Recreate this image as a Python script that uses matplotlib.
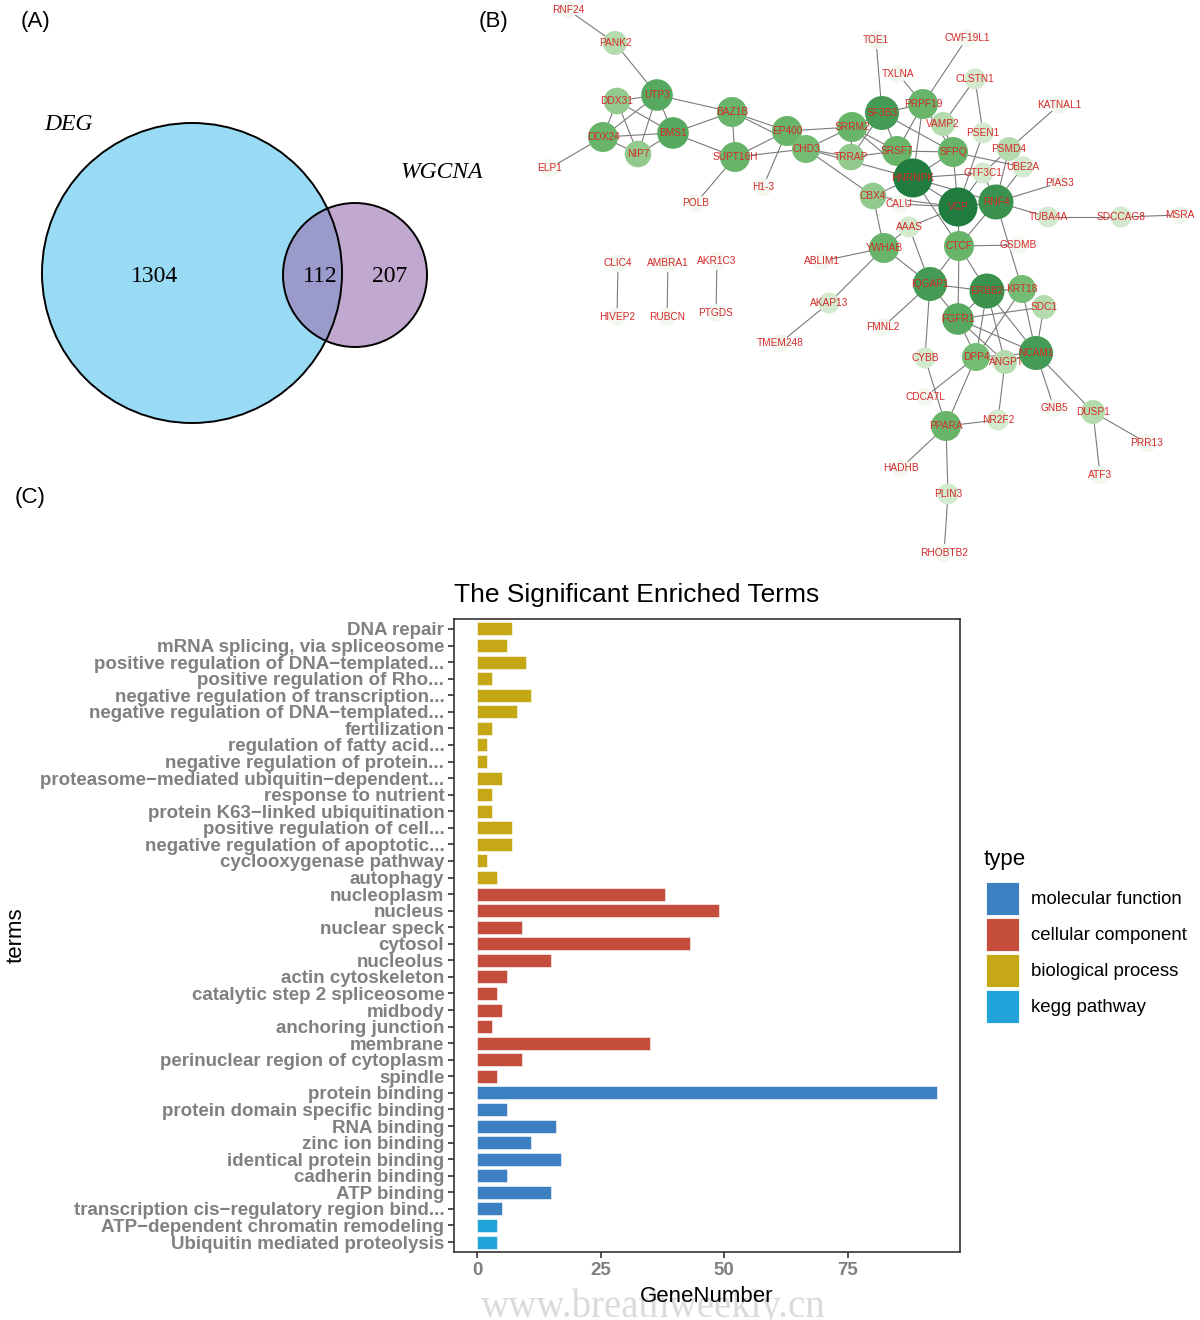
import matplotlib
matplotlib.use("Agg")
import matplotlib.pyplot as plt
from matplotlib.patches import Circle, Rectangle

plt.rcParams["font.family"] = ["Liberation Sans", "DejaVu Sans"]

W, H = 1200, 1320

# ── (A) Venn data ─────────────────────────────────────────────────────────────
VENN_SETS = ["DEG", "WGCNA"]
VENN_COUNTS = [1304, 112, 207]          # DEG only, both, WGCNA only

# ── (B) PPI network data (layout in picture pixels) ───────────────────────────
NODE_NAMES = [
    "RNF24", "PANK2", "UTP3", "DDX31", "DDX24", "BMS1", "NIP7", "ELP1",
    "BAZ1B", "SUPT16H", "EP400", "CHD3", "SRRM2", "TRRAP", "H1-3", "POLB",
    "TOE1", "CWF19L1", "TXLNA", "CLSTN1", "SF3B3", "PRPF19", "VAMP2", "KATNAL1",
    "PSEN1", "PSMD4", "SRSF7", "SFPQ", "GTF3C1", "UBE2A", "PIAS3", "HNRNPK",
    "CBX4", "CALU", "VCP", "RNF4", "TUBA4A", "SDCCAG8", "MSRA", "AAAS",
    "YWHAB", "ABLIM1", "CTCF", "GSDMB", "IQGAP1", "ERBB2", "KRT18", "SDC1",
    "AKAP13", "FGFR1", "FMNL2", "TMEM248", "CYBB", "DPP4", "ANGPTL4", "NCAM1",
    "CDCA7L", "GNB5", "DUSP1", "NR2F2", "PPARA", "PRR13", "HADHB", "ATF3",
    "PLIN3", "RHOBTB2", "CLIC4", "HIVEP2", "AMBRA1", "RUBCN", "AKR1C3", "PTGDS",
]
NODE_X = [
    568, 615, 657, 617, 603, 673, 638, 550,
    732, 735, 787, 806, 852, 851, 763, 696,
    876, 967, 898, 975, 882, 923, 943, 1059,
    983, 1009, 897, 953, 983, 1023, 1059, 913,
    873, 899, 958, 996, 1048, 1121, 1180, 909,
    884, 822, 959, 1018, 930, 987, 1022, 1044,
    829, 958, 883, 780, 925, 976, 1005, 1036,
    925, 1054, 1093, 998, 946, 1147, 901, 1100,
    948, 944, 618, 617, 668, 667, 717, 716,
]
NODE_Y = [
    10, 43, 95, 101, 137, 133, 154, 168,
    112, 157, 131, 149, 127, 157, 187, 203,
    40, 38, 74, 79, 113, 104, 124, 105,
    133, 149, 151, 152, 173, 167, 183, 178,
    196, 204, 207, 202, 217, 217, 215, 227,
    248, 261, 246, 245, 284, 291, 289, 307,
    303, 319, 327, 343, 358, 357, 362, 353,
    397, 408, 412, 420, 426, 443, 468, 475,
    494, 553, 263, 317, 263, 317, 261, 313,
]
# connectivity level (drives node shade and size)
NODE_LEVEL = [
    1, 3, 7, 4, 6, 7, 4, 1,
    6, 6, 6, 5, 6, 4, 1, 1,
    1, 1, 1, 2, 8, 6, 3, 1,
    2, 3, 6, 6, 2, 2, 1, 10,
    4, 1, 10, 9, 2, 2, 1, 2,
    6, 1, 6, 1, 8, 9, 5, 3,
    2, 7, 1, 1, 2, 5, 3, 8,
    1, 1, 3, 2, 6, 1, 1, 1,
    2, 1, 1, 1, 1, 1, 1, 1,
]
EDGES = [
    ("RNF24", "PANK2"), ("PANK2", "UTP3"), ("UTP3", "DDX31"), ("UTP3", "DDX24"),
    ("UTP3", "NIP7"), ("UTP3", "BMS1"), ("UTP3", "BAZ1B"), ("DDX31", "DDX24"),
    ("DDX31", "NIP7"), ("DDX31", "BMS1"), ("DDX24", "BMS1"), ("DDX24", "NIP7"),
    ("DDX24", "ELP1"), ("NIP7", "BMS1"), ("BMS1", "BAZ1B"), ("BMS1", "SUPT16H"),
    ("BAZ1B", "SUPT16H"), ("BAZ1B", "EP400"), ("BAZ1B", "CHD3"), ("SUPT16H", "EP400"),
    ("SUPT16H", "POLB"), ("SUPT16H", "CHD3"), ("EP400", "H1-3"), ("EP400", "SRRM2"),
    ("EP400", "CHD3"), ("CHD3", "SRRM2"), ("CHD3", "TRRAP"), ("CHD3", "CBX4"),
    ("CHD3", "HNRNPK"), ("SRRM2", "SF3B3"), ("SRRM2", "SRSF7"), ("SRRM2", "HNRNPK"),
    ("SRRM2", "TRRAP"), ("TRRAP", "SF3B3"), ("TRRAP", "SRSF7"), ("SF3B3", "PRPF19"),
    ("SF3B3", "SRSF7"), ("SF3B3", "SFPQ"), ("SF3B3", "TOE1"), ("PRPF19", "CWF19L1"),
    ("PRPF19", "TXLNA"), ("PRPF19", "SRSF7"), ("PRPF19", "HNRNPK"), ("PRPF19", "SFPQ"),
    ("VAMP2", "CLSTN1"), ("VAMP2", "SFPQ"), ("CLSTN1", "PSEN1"), ("PSEN1", "VCP"),
    ("SRSF7", "SFPQ"), ("SRSF7", "HNRNPK"), ("SFPQ", "HNRNPK"), ("SFPQ", "VCP"),
    ("SFPQ", "UBE2A"), ("KATNAL1", "PSMD4"), ("PSMD4", "RNF4"), ("PSMD4", "GTF3C1"),
    ("UBE2A", "RNF4"), ("HNRNPK", "GTF3C1"), ("HNRNPK", "VCP"), ("HNRNPK", "CBX4"),
    ("HNRNPK", "CTCF"), ("HNRNPK", "RNF4"), ("GTF3C1", "VCP"), ("GTF3C1", "RNF4"),
    ("VCP", "RNF4"), ("VCP", "AAAS"), ("VCP", "CTCF"), ("CBX4", "VCP"),
    ("CALU", "VCP"), ("RNF4", "PIAS3"), ("RNF4", "TUBA4A"), ("TUBA4A", "SDCCAG8"),
    ("SDCCAG8", "MSRA"), ("RNF4", "KRT18"), ("RNF4", "CTCF"), ("CBX4", "YWHAB"),
    ("AAAS", "YWHAB"), ("AAAS", "IQGAP1"), ("YWHAB", "ABLIM1"), ("YWHAB", "AKAP13"),
    ("YWHAB", "IQGAP1"), ("AKAP13", "TMEM248"), ("CTCF", "GSDMB"), ("CTCF", "IQGAP1"),
    ("CTCF", "FGFR1"), ("CTCF", "ERBB2"), ("IQGAP1", "ERBB2"), ("IQGAP1", "FGFR1"),
    ("IQGAP1", "FMNL2"), ("IQGAP1", "CYBB"), ("ERBB2", "KRT18"), ("ERBB2", "FGFR1"),
    ("ERBB2", "NCAM1"), ("ERBB2", "DPP4"), ("ERBB2", "ANGPTL4"), ("KRT18", "DPP4"),
    ("KRT18", "NCAM1"), ("SDC1", "FGFR1"), ("SDC1", "NCAM1"), ("FGFR1", "NCAM1"),
    ("FGFR1", "ANGPTL4"), ("FGFR1", "DPP4"), ("DPP4", "ANGPTL4"), ("DPP4", "NCAM1"),
    ("ANGPTL4", "NCAM1"), ("ANGPTL4", "NR2F2"), ("DPP4", "PPARA"), ("DPP4", "CDCA7L"),
    ("CYBB", "PPARA"), ("PPARA", "NR2F2"), ("PPARA", "HADHB"), ("PPARA", "PLIN3"),
    ("PLIN3", "RHOBTB2"), ("NCAM1", "GNB5"), ("NCAM1", "DUSP1"), ("DUSP1", "PRR13"),
    ("DUSP1", "ATF3"), ("CLIC4", "HIVEP2"), ("AMBRA1", "RUBCN"), ("AKR1C3", "PTGDS"),
]

# ── (C) enrichment data, top to bottom ────────────────────────────────────────
TERMS = [
    "DNA repair", "mRNA splicing, via spliceosome",
    "positive regulation of DNA\u2212templated...", "positive regulation of Rho...",
    "negative regulation of transcription...", "negative regulation of DNA\u2212templated...",
    "fertilization", "regulation of fatty acid...", "negative regulation of protein...",
    "proteasome\u2212mediated ubiquitin\u2212dependent...", "response to nutrient",
    "protein K63\u2212linked ubiquitination", "positive regulation of cell...",
    "negative regulation of apoptotic...", "cyclooxygenase pathway", "autophagy",
    "nucleoplasm", "nucleus", "nuclear speck", "cytosol", "nucleolus",
    "actin cytoskeleton", "catalytic step 2 spliceosome", "midbody",
    "anchoring junction", "membrane", "perinuclear region of cytoplasm", "spindle",
    "protein binding", "protein domain specific binding", "RNA binding",
    "zinc ion binding", "identical protein binding", "cadherin binding",
    "ATP binding", "transcription cis\u2212regulatory region bind...",
    "ATP\u2212dependent chromatin remodeling", "Ubiquitin mediated proteolysis",
]
GENE_NUMBER = [
    7, 6, 10, 3, 11, 8, 3, 2, 2, 5, 3, 3, 7, 7, 2, 4,
    38, 49, 9, 43, 15, 6, 4, 5, 3, 35, 9, 4,
    93, 6, 16, 11, 17, 6, 15, 5,
    4, 4,
]
TERM_TYPE = (["biological process"] * 16 + ["cellular component"] * 12
             + ["molecular function"] * 8 + ["kegg pathway"] * 2)
TYPE_ORDER = ["molecular function", "cellular component", "biological process", "kegg pathway"]
TYPE_COLORS = {
    "molecular function": "#3c80c1",
    "cellular component": "#c44e3b",
    "biological process": "#c6a715",
    "kegg pathway": "#22a4db",
}

# ── Figure and overlay axes in pixel coordinates ──────────────────────────────
fig = plt.figure(figsize=(W / 100, H / 100), dpi=100)
ax = fig.add_axes([0, 0, 1, 1])
ax.set_xlim(0, W)
ax.set_ylim(H, 0)
ax.axis("off")

for lab, x, y in [("(A)", 35, 22), ("(B)", 494, 22), ("(C)", 30, 497)]:
    ax.text(x, y, lab, fontsize=16, ha="center", va="center")

# Venn
big = Circle((192, 273), 150, facecolor="#99dbf4", edgecolor="none", zorder=1)
small = Circle((355, 275), 72, facecolor="#c1a8cf", edgecolor="none", zorder=1)
ax.add_patch(big)
ax.add_patch(small)
overlap = Circle((355, 275), 72, facecolor="#9a9bcb", edgecolor="none", zorder=2)
ax.add_patch(overlap)
overlap.set_clip_path(Circle((192, 273), 150, transform=ax.transData))
for c, r in [((192, 273), 150), ((355, 275), 72)]:
    ax.add_patch(Circle(c, r, facecolor="none", edgecolor="black", lw=1.4, zorder=3))
serif = ["Liberation Serif", "DejaVu Serif"]
for val, x in zip(VENN_COUNTS, [155, 320, 390]):
    ax.text(x, 277, str(val), fontsize=17, family=serif, ha="center", va="center", zorder=4)
ax.text(68, 124, VENN_SETS[0], fontsize=17, family=serif, style="italic",
        ha="center", va="center")
ax.text(442, 172, VENN_SETS[1], fontsize=17, family=serif, style="italic",
        ha="center", va="center")

# Network
LEVEL_COLOR = {1: "#f2f8ef", 2: "#d3eace", 3: "#b4dbad", 4: "#91ca8c", 5: "#74bc73",
               6: "#68b56a", 7: "#57a960", 8: "#459b55", 9: "#3a924e", 10: "#1f7b3e"}
LEVEL_RADIUS = {1: 9, 2: 10.5, 3: 12, 4: 13.3, 5: 14, 6: 15, 7: 15.8, 8: 17,
                9: 17.5, 10: 19.5}
pos = {n: (x, y) for n, x, y in zip(NODE_NAMES, NODE_X, NODE_Y)}
for a, b in EDGES:
    (x1, y1), (x2, y2) = pos[a], pos[b]
    ax.plot([x1, x2], [y1, y2], color="#7a7a7a", lw=0.8, zorder=5)
for n, x, y, lv in zip(NODE_NAMES, NODE_X, NODE_Y, NODE_LEVEL):
    ax.add_patch(Circle((x, y), LEVEL_RADIUS[lv], facecolor=LEVEL_COLOR[lv],
                        edgecolor="none", zorder=6))
    # ANGPTL4's label sits under the NCAM1 node, as in the source figure
    tx = x + 7 if n == "ANGPTL4" else x
    ax.text(tx, y, n, fontsize=7.3, color="#d42a2a", ha="center", va="center",
            zorder=6 if n == "ANGPTL4" else 8)

# ── (C) bar chart ─────────────────────────────────────────────────────────────
L, R, T, B = 454, 960, 619, 1252
bx = fig.add_axes([L / W, 1 - B / H, (R - L) / W, (B - T) / H])
n = len(TERMS)
ypos = list(range(n, 0, -1))
bx.barh(ypos, GENE_NUMBER, height=0.78, color=[TYPE_COLORS[t] for t in TERM_TYPE],
        edgecolor="white", linewidth=0.4, zorder=2)
bx.set_ylim(0.4, n + 0.6)
bx.set_xlim(-4.65, 97.65)
bx.set_yticks(ypos)
bx.set_yticklabels(TERMS, fontsize=13.5, fontweight="bold", color="#808080")
bx.set_xticks([0, 25, 50, 75])
bx.set_xticklabels(["0", "25", "50", "75"], fontsize=13.5, fontweight="bold", color="#808080")
bx.tick_params(axis="both", length=4, width=1.2, color="#333333", pad=3)
for s in bx.spines.values():
    s.set_color("#333333")
    s.set_linewidth(1.2)
bx.set_xlabel("GeneNumber", fontsize=16, labelpad=5)
bx.set_ylabel("terms", fontsize=16, labelpad=10)
bx.set_title("The Significant Enriched Terms", fontsize=19, pad=12, loc="left")

# legend
ax.text(984, 860, "type", fontsize=16, ha="left", va="center")
for i, t in enumerate(TYPE_ORDER):
    y0 = 882 + 36 * i
    ax.add_patch(Rectangle((986, y0), 33, 33, facecolor=TYPE_COLORS[t],
                           edgecolor="white", lw=0.6))
    ax.text(1031, y0 + 17, t, fontsize=13.4, ha="left", va="center")

ax.text(653, 1307, "www.breathweekly.cn", fontsize=28, family=serif,
        color="#dadada", ha="center", va="center", zorder=0)

fig.savefig("out.png", dpi=100)
